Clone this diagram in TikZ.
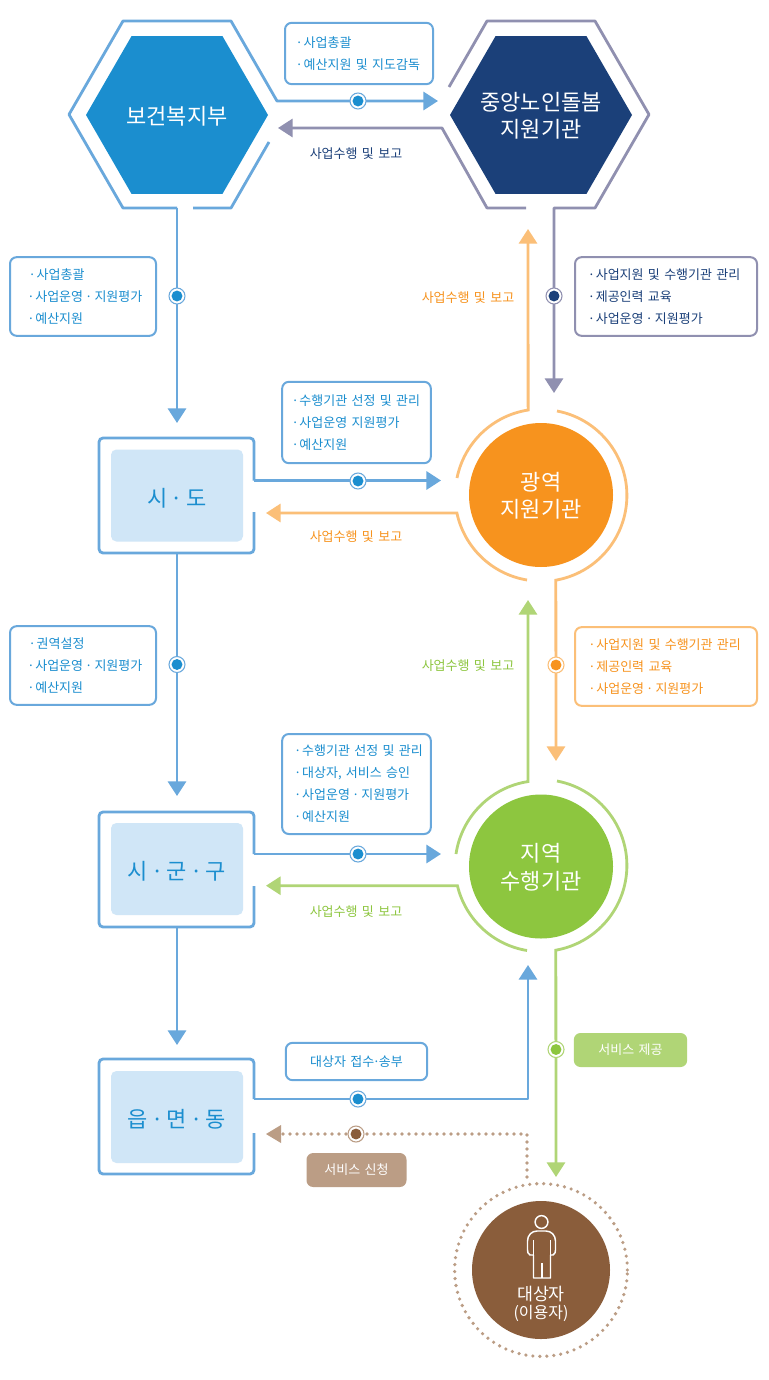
\documentclass[tikz,border=0pt]{standalone}
\usepackage{fontspec}
\setmainfont[WordSpace=1.5]{Noto Sans CJK KR}
\usetikzlibrary{arrows.meta,shapes.geometric}

\definecolor{welfareblue}{HTML}{1B8ECF}
\definecolor{lineblue}{HTML}{69A8DC}
\definecolor{navy}{HTML}{1B4079}
\definecolor{linenavy}{HTML}{9090B0}
\definecolor{metroorange}{HTML}{F7931E}
\definecolor{lineorange}{HTML}{FBBF78}
\definecolor{localgreen}{HTML}{8DC63F}
\definecolor{linegreen}{HTML}{B0D576}
\definecolor{userbrown}{HTML}{8A5D3B}
\definecolor{linebrown}{HTML}{BB9D85}
\definecolor{paleblue}{HTML}{D0E6F7}

\newcommand{\notedot}{\makebox[6pt][l]{·}}
\newcommand{\innerdot}{\makebox[8.5pt][c]{·}}
\newcommand{\areadot}{\makebox[14pt][c]{·}}

\tikzset{
  flow/.style={line width=2.1pt, draw=#1, -{Triangle[length=10.9pt,width=13.5pt,fill=#1]}},
  ring/.style={line width=2.1pt, draw=#1},
  bodytext/.style={text=white, align=center, inner sep=0pt, yshift=-0.6pt, font=\fontsize{16.5}{20.7}\selectfont},
  hexnode/.style={regular polygon, regular polygon sides=6, minimum size=136.5pt, inner sep=0pt, fill=#1},
  discnode/.style={circle, minimum size=108pt, inner sep=0pt, fill=#1},
  areanode/.style={rectangle, rounded corners=4pt, minimum width=99pt, minimum height=69pt, inner sep=0pt, fill=paleblue, text=welfareblue, text height=16.2pt, text depth=0pt, font=\fontsize{16.5}{21}\selectfont},
  notebox/.style 2 args={rectangle, rounded corners=5pt, draw=#1, line width=1.5pt, fill=white, text=#2, align=left, inner sep=0pt, font=\fontsize{9.75}{16.5}\selectfont},
  notepad/.style={execute at begin node={\leftskip=#1\relax}},
  tagbox/.style={rectangle, rounded corners=5pt, fill=#1, text=white, inner sep=0pt, text height=8.6pt, text depth=1.2pt, font=\fontsize{9.75}{16.5}\selectfont},
  report/.style={text=#1, inner sep=0pt, text height=9.4pt, text depth=0.4pt, font=\fontsize{9.75}{16.5}\selectfont},
  hubdot/.style 2 args={circle, inner sep=0pt, minimum size=12pt, fill=white, draw=#1, line width=0.8pt, path picture={\fill[#2] (path picture bounding box.center) circle (4.1pt);}},
  dotline/.style={draw=linebrown, line width=2.7pt, line cap=round, line join=round, dash pattern=on 0pt off 5.25pt},
  figure/.style={draw=white, line width=1.1pt, line join=round},
}

\begin{document}
\begin{tikzpicture}[x=0.75pt,y=-0.75pt]
        \useasboundingbox[fill=white] (0,0) rectangle (768,1380);

        % Main bodies
        \node[hexnode=welfareblue, label={[bodytext]center:보건복지부}] (welfare) at (177,115) {};
        \node[hexnode=navy, label={[bodytext]center:중앙노인돌봄\\지원기관}] (central) at (541,115) {};
        \node[discnode=metroorange, label={[bodytext]center:광역\\지원기관}] (metro) at (541,495) {};
        \node[discnode=localgreen, label={[bodytext]center:지역\\수행기관}] (local) at (541,866.5) {};
        \node[areanode] (sido) at (177,495.5) {시\areadot 도};
        \node[areanode] (sigungu) at (177,869) {시\areadot 군\areadot 구};
        \node[areanode] (eup) at (177,1117) {읍\areadot 면\areadot 동};
        \node[circle, minimum size=103.5pt, inner sep=0pt, fill=userbrown] (user) at (541,1270) {};

        % Where the connectors turn and stop
        \coordinate (welfareOut) at (277,101);
        \coordinate (welfareBack) at (269,142);
        \coordinate (welfareDown) at (177,208);
        \coordinate (centralIn) at (438,101);
        \coordinate (centralBack) at (442,128);
        \coordinate (centralFoot) at (526,208);
        \coordinate (centralDown) at (554,208);
        \coordinate (centralStart) at (449,87);
        \coordinate (welfareTip) at (278,128);
        \coordinate (sidoTop) at (177,423);
        \coordinate (sidoOut) at (254,480.5);
        \coordinate (sidoBack) at (254,512);
        \coordinate (sidoDown) at (177,553);
        \coordinate (sidoTip) at (266,513);
        \coordinate (metroIn) at (441,480.5);
        \coordinate (metroUp) at (457,478);
        \coordinate (metroUpEnd) at (528,229);
        \coordinate (metroTop) at (554,393);
        \coordinate (metroRight) at (557,411);
        \coordinate (metroLeft) at (527,580);
        \coordinate (sigunguTop) at (177,796);
        \coordinate (sigunguOut) at (254,854);
        \coordinate (sigunguBack) at (254,886);
        \coordinate (sigunguDown) at (177,927);
        \coordinate (sigunguTip) at (266,885.7);
        \coordinate (localIn) at (441,854);
        \coordinate (localUp) at (456,854);
        \coordinate (localUpEnd) at (528,600);
        \coordinate (localTop) at (556,761);
        \coordinate (localRight) at (557,781);
        \coordinate (localLeft) at (527,950.5);
        \coordinate (eupTop) at (177,1045);
        \coordinate (eupOut) at (254,1099);
        \coordinate (eupBack) at (254,1133);
        \coordinate (eupTurn) at (528,1099);
        \coordinate (eupEnd) at (528,965);
        \coordinate (eupTip) at (266,1134);
        \coordinate (requestEnd) at (281,1134);
        \coordinate (userTop) at (556,1177);
        \coordinate (userOut) at (527,1177);
        \coordinate (userTurn) at (527,1134);

        % Outline of the ministry hexagon and its connectors
        \draw[ring=lineblue, line join=round] (welfareBack) -- (231,208) -- (193,208);
        \draw[flow=lineblue, line join=round] (welfareDown) -- (123,208) -- (69,114.5) -- (123,21) -- (231,21) -- (welfareOut) -- (centralIn);
        \draw[flow=lineblue] (welfareDown) -- (sidoTop);

        % Outline of the central hexagon and its connectors
        \draw[flow=linenavy, line join=round] (centralStart) -- (487,21) -- (595,21) -- (649,114.5) -- (595,208) -- (centralDown) -- (metroTop);
        \draw[flow=linenavy, line join=round] (centralFoot) -- (487,208) -- (centralBack) -- (welfareTip);

        % Boxes round the three districts
        \draw[ring=lineblue, rounded corners=3pt] (sidoBack) -- (254,553) -- (99,553) -- (99,438) -- (254,438) -- (sidoOut);
        \draw[ring=lineblue, rounded corners=3pt] (sigunguBack) -- (254,927) -- (99,927) -- (99,812) -- (254,812) -- (sigunguOut);
        \draw[ring=lineblue, rounded corners=3pt] (eupBack) -- (254,1174) -- (99,1174) -- (99,1059) -- (254,1059) -- (eupOut);

        % Blue connectors
        \draw[flow=lineblue] (sidoDown) -- (sigunguTop);
        \draw[flow=lineblue] (sigunguDown) -- (eupTop);
        \draw[flow=lineblue] (sidoOut) -- (metroIn);
        \draw[flow=lineblue] (sigunguOut) -- (localIn);
        \draw[flow=lineblue, line join=round] (eupOut) -- (eupTurn) -- (eupEnd);

        % Rings of the metro circle
        \draw[flow=lineorange] (metroUp) arc[start angle=168.6, end angle=98.8, radius=64.5pt] -- (metroUpEnd);
        \draw[flow=lineorange] (metroRight) arc[start angle=79.2, end angle=-80, radius=64.5pt] -- (localTop);
        \draw[flow=lineorange] (metroLeft) arc[start angle=-99.4, end angle=-168, radius=64.5pt] -- (sidoTip);

        % Rings of the local circle
        \draw[flow=linegreen] (localUp) arc[start angle=171.6, end angle=98.8, radius=64.5pt] -- (localUpEnd);
        \draw[flow=linegreen] (localRight) arc[start angle=79.2, end angle=-80, radius=64.5pt] -- (userTop);
        \draw[flow=linegreen] (localLeft) arc[start angle=-99.4, end angle=-166.5, radius=64.5pt] -- (sigunguTip);

        % Dotted ring and request line of the user
        \draw[dotline] (user) circle (64.8pt);
        \draw[dotline] (userOut) -- (userTurn) -- (requestEnd);
        \fill[linebrown] (eupTip) -- ++(15,-9) -- ++(0,18) -- cycle;

        % Person
        \draw[figure] (541.5,1222) circle (4.8pt);
        \draw[figure] (533.5,1278) -- (533.5,1255) -- (530,1255) .. controls (528,1253.5) and (527.5,1252.5) .. (527.5,1250) -- (527.5,1241) .. controls (527.5,1235) and (532,1231) .. (537,1231) -- (546,1231) .. controls (551,1231) and (555.5,1235) .. (555.5,1241) -- (555.5,1250) .. controls (555.5,1252.5) and (555,1253.5) .. (553,1255) -- (550.5,1255) -- (550.5,1278) -- cycle;
        \draw[figure] (533.5,1255) -- (533.5,1240);
        \draw[figure] (550.5,1255) -- (550.5,1240);
        \draw[figure] (542,1263) -- (542,1278);
        \node[text=white, inner sep=0pt, font=\fontsize{13}{15}\selectfont] (userName) at (541,1293.5) {대상자};
        \node[text=white, inner sep=0pt, font=\fontsize{12}{15}\selectfont] (userNote) at (541,1313.5) {(이용자)};

        % Notes
        \node[notebox={lineblue}{welfareblue}, notepad=8pt, minimum height=46pt, text width=111pt] (noteCentral) at (359,53.5) {\notedot 사업총괄\\\notedot 예산지원 및 지도감독};
        \node[notebox={lineblue}{welfareblue}, notepad=13pt, minimum height=59pt, text width=109.5pt] (noteSido) at (83,296.5) {\hspace*{1pt}\notedot 사업총괄\\\notedot 사업운영\innerdot 지원평가\\\notedot 예산지원};
        \node[notebox={linenavy}{navy}, notepad=9.6pt, minimum height=59pt, text width=136.5pt] (noteMetro) at (666,296.5) {\notedot 사업지원 및 수행기관 관리\\\notedot 제공인력 교육\\\notedot 사업운영\innerdot 지원평가};
        \node[notebox={lineblue}{welfareblue}, notepad=7pt, minimum height=61pt, text width=111.5pt] (noteSelect) at (356.5,422.5) {\notedot 수행기관 선정 및 관리\\\notedot 사업운영 지원평가\\\notedot 예산지원};
        \node[notebox={lineblue}{welfareblue}, notepad=13pt, minimum height=59pt, text width=109.5pt] (noteSigungu) at (83,665.5) {\hspace*{1pt}\notedot 권역설정\\\notedot 사업운영\innerdot 지원평가\\\notedot 예산지원};
        \node[notebox={lineorange}{metroorange}, notepad=10pt, minimum height=59pt, text width=136.5pt] (noteLocal) at (666,666.5) {\notedot 사업지원 및 수행기관 관리\\\notedot 제공인력 교육\\\notedot 사업운영\innerdot 지원평가};
        \node[notebox={lineblue}{welfareblue}, notepad=9pt, minimum height=75pt, text width=111.5pt] (noteApprove) at (356.5,784) {\notedot 수행기관 선정 및 관리\\\notedot 대상자, 서비스 승인\\\notedot 사업운영\innerdot 지원평가\\\notedot 예산지원};
        \node[notebox={lineblue}{welfareblue}, minimum width=106pt, minimum height=28pt, align=center, text height=8.6pt, text depth=1.2pt] (noteIntake) at (356.5,1061.5) {대상자 접수\makebox[3.5pt][c]{·}송부};
        \node[tagbox=linegreen, minimum width=85pt, minimum height=25.5pt] (tagService) at (630.5,1050) {서비스 제공};
        \node[tagbox=linebrown, minimum width=75pt, minimum height=25.5pt] (tagRequest) at (356.5,1170) {서비스 신청};

        % Report labels
        \node[report=navy] (reportCentral) at (356,153) {사업수행 및 보고};
        \node[report=metroorange] (reportMetro) at (468,296) {사업수행 및 보고};
        \node[report=metroorange] (reportSido) at (356,535) {사업수행 및 보고};
        \node[report=localgreen] (reportLocal) at (468,664) {사업수행 및 보고};
        \node[report=localgreen] (reportSigungu) at (356,910) {사업수행 및 보고};

        % Hub dots
        \node[hubdot={lineblue}{welfareblue}] (hubCentral) at (358,101) {};
        \node[hubdot={linenavy}{navy}] (hubMetro) at (554,296) {};
        \node[hubdot={lineblue}{welfareblue}] (hubWelfare) at (177,296) {};
        \node[hubdot={lineblue}{welfareblue}] (hubSido) at (358,481) {};
        \node[hubdot={lineblue}{welfareblue}] (hubDown) at (177,664.5) {};
        \node[hubdot={lineorange}{metroorange}] (hubLocal) at (556,665) {};
        \node[hubdot={lineblue}{welfareblue}] (hubSigungu) at (358,854) {};
        \node[hubdot={linegreen}{localgreen}] (hubUser) at (556,1049.5) {};
        \node[hubdot={lineblue}{welfareblue}] (hubEup) at (358,1099) {};
        \node[hubdot={linebrown}{userbrown}] (hubRequest) at (356,1134) {};
    \end{tikzpicture}
\end{document}
